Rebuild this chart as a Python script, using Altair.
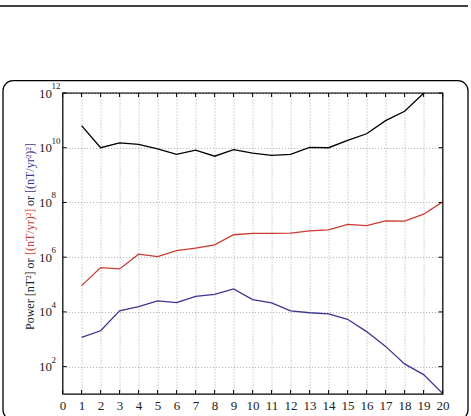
import altair as alt
import pandas as pd

degrees = list(range(1, 21))
# log10 of power values
field_log = [10.81, 10.0, 10.18, 10.12, 9.96, 9.76, 9.91, 9.69, 9.93, 9.80,
             9.72, 9.76, 10.01, 10.0, 10.27, 10.51, 10.99, 11.33, 11.99, 12.6]
sv_log = [4.96, 5.62, 5.57, 6.11, 6.02, 6.24, 6.33, 6.45, 6.82, 6.87,
          6.87, 6.88, 6.96, 7.0, 7.2, 7.15, 7.33, 7.32, 7.57, 8.02]
sa_log = [3.07, 3.31, 4.04, 4.19, 4.4, 4.34, 4.57, 4.64, 4.84, 4.45,
          4.33, 4.04, 3.97, 3.93, 3.73, 3.28, 2.74, 2.10, 1.71, 1.02]
series_names = ["field", "sv", "sa"]
series_colors = ["#000000", "#cc3b32", "#3b3592"]

x_ticks = list(range(0, 21))
y_tick_exp = [2, 4, 6, 8, 10, 12]

rows = []
for name, vals in zip(series_names, [field_log, sv_log, sa_log]):
    for n, v in zip(degrees, vals):
        rows.append({"n": n, "power": 10 ** v, "series": name})
df = pd.DataFrame(rows)

W, H = 380, 301
PL, PT = 62.6, 93
SERIF = "Liberation Serif"

xscale = alt.Scale(domain=[0, 20], nice=False, zero=False)
yscale = alt.Scale(type="log", domain=[10, 1e12], nice=False)

xaxis = alt.Axis(values=x_ticks, title="degree n", ticks=False, labelPadding=5,
                 grid=True, gridDash=[1, 2], gridColor="#9a9a9a", gridWidth=0.8,
                 labelFont=SERIF, labelFontSize=13, labelColor="#222", labelFlush=False,
                 titleFont=SERIF, titleFontSize=13, titleFontWeight="normal", titleColor="#222",
                 titlePadding=2, domain=False)
yaxis = alt.Axis(values=[10 ** e for e in y_tick_exp], labelExpr="'10'",
                 title=None, ticks=False, labelPadding=11, labelOverlap=False, labelFlush=False,
                 grid=True, gridDash=[1, 2], gridColor="#9a9a9a", gridWidth=0.8,
                 labelFont=SERIF, labelFontSize=13, labelColor="#222", domain=False)

lines = alt.Chart(df).mark_line(strokeWidth=1.3, clip=True).encode(
    x=alt.X("n:Q", scale=xscale, axis=xaxis, title="degree n"),
    y=alt.Y("power:Q", scale=yscale, axis=yaxis, title=None),
    color=alt.Color("series:N", scale=alt.Scale(domain=series_names, range=series_colors), legend=None),
    detail="series:N",
)

exp_df = pd.DataFrame({"tick": [10 ** e for e in y_tick_exp], "label": [str(e) for e in y_tick_exp]})
xt_df = pd.DataFrame({"n": x_ticks})

exps = alt.Chart(exp_df).mark_text(font=SERIF, fontSize=9, align="left", baseline="middle",
                                   dy=-7, color="#222").encode(
    x=alt.value(-11), y=alt.Y("tick:Q", scale=yscale, axis=yaxis, title=None), text="label:N")

# inward ticks
xt_bot = alt.Chart(xt_df).mark_rule(color="black", strokeWidth=1).encode(
    x=alt.X("n:Q", scale=xscale, axis=xaxis, title="degree n"), y=alt.value(H), y2=alt.value(H - 4))
xt_top = alt.Chart(xt_df).mark_rule(color="black", strokeWidth=1).encode(
    x=alt.X("n:Q", scale=xscale, axis=xaxis, title="degree n"), y=alt.value(0), y2=alt.value(4))
yt_left = alt.Chart(exp_df).mark_rule(color="black", strokeWidth=1).encode(
    y=alt.Y("tick:Q", scale=yscale, axis=yaxis, title=None), x=alt.value(0), x2=alt.value(4))
yt_right = alt.Chart(exp_df).mark_rule(color="black", strokeWidth=1).encode(
    y=alt.Y("tick:Q", scale=yscale, axis=yaxis, title=None), x=alt.value(W), x2=alt.value(W - 4))

one = pd.DataFrame({"a": [0]})
box = alt.Chart(one).mark_rect(fill=None, fillOpacity=0, stroke="black", strokeWidth=1.3,
                               cornerRadius=10, clip=False).encode(
    x=alt.value(3 - PL), x2=alt.value(468 - PL), y=alt.value(80.7 - PT), y2=alt.value(420 - PT))
topline = alt.Chart(one).mark_rule(color="black", strokeWidth=1.5).encode(
    x=alt.value(0 - PL), x2=alt.value(468 - PL), y=alt.value(6 - PT))

# coloured y-axis title segments (rotated, reading bottom to top)
seg_texts = ["Power [nT²] or", "[(nT/yr)²]", "or", "[(nT/yr²)²]"]
seg_colors = ["#222222", "#cc3b32", "#222222", "#3b3592"]
seg_starts = [330, 255, 206, 193]
title_layers = []
for t, c, s in zip(seg_texts, seg_colors, seg_starts):
    title_layers.append(
        alt.Chart(one).mark_text(text=t, font=SERIF, fontSize=12, angle=270, align="left",
                                 baseline="middle", color=c).encode(
            x=alt.value(30 - PL), y=alt.value(s - PT)))

chart = alt.layer(lines, exps, xt_bot, xt_top, yt_left, yt_right, box, topline, *title_layers).properties(
    width=W, height=H,
    autosize=alt.AutoSizeParams(type="none"),
    padding={"left": PL, "top": PT, "right": 471 - PL - W, "bottom": 416 - PT - H},
    background="white",
).configure_view(stroke="black", strokeWidth=1.3)

chart.save("out.html", embed_options={"renderer": "svg", "actions": False})
